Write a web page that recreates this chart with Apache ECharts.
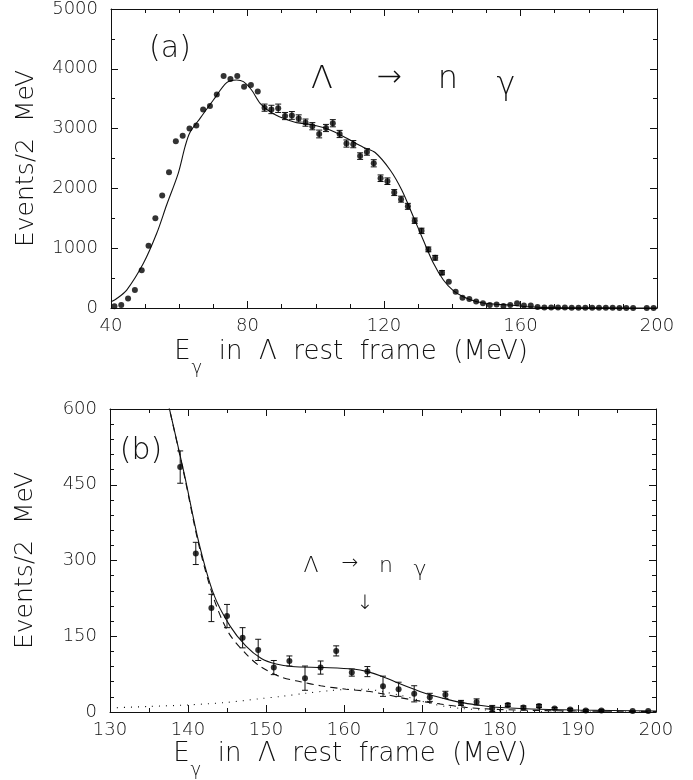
<!DOCTYPE html>
<html>
<head>
<meta charset="utf-8">
<script src="https://cdn.jsdelivr.net/npm/echarts@6/dist/echarts.min.js"></script>
<style>
  html, body { margin: 0; padding: 0; background: #fff; }
  #chart { width: 693px; height: 780px; }
</style>
</head>
<body>
<div id="chart"></div>
<script>
// ---- panel (a): full spectrum ----
const binsA = [41, 43, 45, 47, 49, 51, 53, 55, 57, 59, 61, 63, 65, 67, 69, 71, 73, 75, 77, 79,
  81, 83, 85, 87, 89, 91, 93, 95, 97, 99, 101, 103, 105, 107, 109, 111, 113, 115, 117, 119,
  121, 123, 125, 127, 129, 131, 133, 135, 137, 139, 141, 143, 145, 147, 149, 151, 153, 155, 157, 159,
  161, 163, 165, 167, 169, 171, 173, 175, 177, 179, 181, 183, 185, 187, 189, 191, 193, 195, 197, 199]
const countsA = [30, 50, 160, 300, 630, 1040, 1500, 1880, 2270, 2790, 2880, 3000, 3050, 3320, 3380, 3570, 3880, 3830, 3880, 3700,
  3730, 3620, 3350, 3320, 3340, 3210, 3220, 3170, 3100, 3040, 2910, 3010, 3090, 2910, 2750, 2740, 2540, 2610, 2420, 2170,
  2120, 1930, 1820, 1700, 1460, 1290, 980, 840, 590, 440, 270, 170, 150, 110, 80, 50, 60, 35, 50, 80,
  40, 40, 15, 10, 10, 10, 10, 5, 5, 5, 5, 5, 5, 5, 0, 0, 0, null, 0, 0]
const errA = [0, 0, 0, 0, 0, 0, 0, 0, 0, 0, 0, 0, 0, 0, 0, 0, 0, 0, 0, 0,
  0, 0, 60, 70, 70, 60, 65, 60, 60, 60, 65, 60, 60, 60, 60, 60, 55, 55, 60, 55,
  55, 50, 50, 50, 45, 45, 40, 40, 35, 0, 0, 0, 0, 0, 0, 0, 0, 0, 0, 0,
  0, 0, 0, 0, 0, 0, 0, 0, 0, 0, 0, 0, 0, 0, 0, 0, 0, 0, 0, 0]
const fitAx = [40, 41.5, 44.6, 49.5, 53.4, 56.3, 59.7, 61.7, 63.1, 66.1, 70, 73.9, 76.8, 78.8, 81.2, 83.7, 86.6, 90.5,
  94.4, 99.3, 104.2, 109.1, 113.9, 117.4, 121.8, 125.2, 128.6, 131.5, 134.5, 137.4, 140.3, 143.2, 147.2, 152, 156.9,
  161.8, 171.6, 185, 200]
const fitAy = [106, 150, 300, 747, 1249, 1722, 2252, 2698, 2932, 3172, 3478, 3768, 3813, 3785, 3645, 3423, 3283, 3172,
  3099, 3060, 2977, 2837, 2690, 2600, 2308, 1973, 1527, 1137, 747, 468, 290, 190, 106, 67, 50,
  22, 5, 2, 0]

// ---- panel (b): high energy tail ----
const binsB = [139, 141, 143, 145, 147, 149, 151, 153, 155, 157, 159, 161, 163, 165, 167, 169,
  171, 173, 175, 177, 179, 181, 183, 185, 187, 189, 191, 193, 195, 197, 199]
const countsB = [485, 314, 206, 190, 147, 123, 88, 101, 67, 88, 121, 78, 80, 51, 45, 36,
  29, 34, 18, 20, 7, 14, 9, 12, 7, 5, 3, 3, null, 2, 2]
const errB = [32, 22, 27, 23, 20, 21, 14, 10, 24, 13, 10, 7, 10, 20, 14, 16,
  8, 7, 5, 6, 6, 3, 3, 3, 2, 2, 2, 2, 0, 0, 0]
const totalBx = [137.4, 139.5, 141.4, 143.3, 145.4, 147.4, 149.4, 151.3, 153.3, 157.3, 161.2, 163, 165, 167, 169,
  171, 173, 175, 177, 179, 184, 190, 200]
const totalBy = [615, 473, 335, 233, 170, 131, 106, 95, 90, 88, 85, 80, 70, 57, 45, 34, 26, 19, 14, 10, 6, 4, 2]
const bgBx = [137.4, 139.5, 141.4, 143.3, 145.2, 147.5, 149.2, 151.8, 154.4, 157, 160.3, 163, 165, 167, 170,
  172.3, 175.7, 180, 185, 190, 200]
const bgBy = [615, 470, 330, 225, 157, 114, 91, 70, 60, 52, 45, 41, 36, 29, 21, 16, 9, 5, 3, 2, 1]
const sigBx = [130, 135, 140, 145, 149, 152, 155, 158, 161, 163, 165, 167, 169, 171, 173, 175, 178, 181, 185, 190, 200]
const sigBy = [8, 11, 14, 19, 26, 31, 37, 42, 45, 45, 40, 34, 26, 17, 11, 7, 4, 2, 1, 0, 0]

const FONT = '"DejaVu Sans", sans-serif'
const INK = '#111'

const zip = (xs, ys) => xs.map((x, i) => [x, ys[i]])
const points = (xs, ys, es) => xs.map((x, i) => [x, ys[i], es[i]]).filter(p => p[1] !== null)

const myChart = echarts.init(document.getElementById('chart'))

const tickLabel = { fontSize: 18, fontFamily: FONT, fontWeight: 200, color: INK, formatter: v => String(v) }
// x title: E with subscript gamma, shifted left of the axis centre like the original
const axisTitle = {
  e: { fontSize: 26, fontFamily: FONT, fontWeight: 200, color: INK, lineHeight: 30, verticalAlign: 'top' },
  g: { fontSize: 18, fontFamily: FONT, fontWeight: 200, color: INK, lineHeight: 18, verticalAlign: 'top', padding: [20, 0, 0, 1] },
  t: { fontSize: 26, fontFamily: FONT, fontWeight: 200, color: INK, lineHeight: 30, verticalAlign: 'top', padding: [0, 66, 0, 0] }
}
const xName = '{e|E}{g|γ}{t|  in  Λ  rest  frame  (MeV)}'

function xAxes(gi, min, max, interval, minorSplit, gap) {
  const base = {
    gridIndex: gi, type: 'value', min: min, max: max, interval: interval,
    axisLine: { onZero: false, lineStyle: { color: INK, width: 1 } },
    axisTick: { inside: true, length: 7, lineStyle: { color: INK } },
    minorTick: { show: true, splitNumber: minorSplit, length: 4, lineStyle: { color: INK } },
    splitLine: { show: false }
  }
  return [
    Object.assign({}, base, {
      position: 'bottom',
      axisLabel: Object.assign({ margin: 9 }, tickLabel),
      name: xName, nameLocation: 'middle', nameGap: gap,
      nameTextStyle: { rich: axisTitle }
    }),
    Object.assign({}, base, { position: 'top', axisLabel: { show: false } })
  ]
}

function yAxes(gi, max, interval, minorSplit) {
  const base = {
    gridIndex: gi, type: 'value', min: 0, max: max, interval: interval,
    axisLine: { onZero: false, lineStyle: { color: INK, width: 1 } },
    axisTick: { inside: true, length: 7, lineStyle: { color: INK } },
    minorTick: { show: true, splitNumber: minorSplit, length: 4, lineStyle: { color: INK } },
    splitLine: { show: false }
  }
  return [
    Object.assign({}, base, {
      position: 'left',
      axisLabel: Object.assign({ margin: 13 }, tickLabel),
      name: 'Events/2  MeV', nameLocation: 'middle', nameGap: 72,
      nameTextStyle: { fontSize: 25, fontFamily: FONT, fontWeight: 200, color: INK }
    }),
    Object.assign({}, base, { position: 'right', axisLabel: { show: false } })
  ]
}

// error bars drawn through the axis scales
function errorBars(xi, yi, data) {
  return {
    type: 'custom', xAxisIndex: xi, yAxisIndex: yi, clip: true, z: 3,
    data: data,
    renderItem: function (params, api) {
      const e = api.value(2)
      if (!e) return null
      const x = api.value(0), y = api.value(1)
      const hi = api.coord([x, y + e])
      const lo = api.coord([x, y - e])
      const st = { stroke: INK, lineWidth: 1 }
      return {
        type: 'group',
        children: [
          { type: 'line', shape: { x1: hi[0], y1: hi[1], x2: lo[0], y2: lo[1] }, style: st },
          { type: 'line', shape: { x1: hi[0] - 3, y1: hi[1], x2: hi[0] + 3, y2: hi[1] }, style: st },
          { type: 'line', shape: { x1: lo[0] - 3, y1: lo[1], x2: lo[0] + 3, y2: lo[1] }, style: st }
        ]
      }
    }
  }
}

function curve(xi, yi, data, type) {
  return {
    type: 'line', xAxisIndex: xi, yAxisIndex: yi, data: data,
    showSymbol: false, smooth: 0.3, clip: true, z: 2,
    lineStyle: { color: INK, width: 1.1, type: type }
  }
}

function dots(xi, yi, data) {
  return {
    type: 'scatter', xAxisIndex: xi, yAxisIndex: yi, data: data,
    symbol: 'circle', symbolSize: 6, itemStyle: { color: '#000' }, z: 4
  }
}

function label(text, x, y, size) {
  return {
    type: 'text', x: x, y: y,
    style: {
      text: text, fontSize: size, fontFamily: FONT, fontWeight: 200, fill: INK,
      align: 'center', verticalAlign: 'middle'
    }
  }
}

const ptsA = points(binsA, countsA, errA)
const ptsB = points(binsB, countsB, errB)

const option = {
  animation: false,
  backgroundColor: '#fff',
  grid: [
    { left: 111, top: 9, width: 546, height: 299 },
    { left: 110, top: 409, width: 546, height: 304 }
  ],
  xAxis: xAxes(0, 40, 200, 40, 4, 31).concat(xAxes(1, 130, 200, 10, 2, 29)),
  yAxis: yAxes(0, 5000, 1000, 2).concat(yAxes(1, 600, 150, 5)),
  series: [
    curve(0, 0, zip(fitAx, fitAy), 'solid'),
    errorBars(0, 0, ptsA),
    dots(0, 0, ptsA),
    curve(2, 2, zip(totalBx, totalBy), 'solid'),
    curve(2, 2, zip(bgBx, bgBy), [7, 5]),
    curve(2, 2, zip(sigBx, sigBy), [1, 6]),
    errorBars(2, 2, ptsB),
    dots(2, 2, ptsB)
  ],
  graphic: [
    label('(a)', 170, 49, 30),
    label('Λ', 322, 80, 32),
    label('→', 389, 78, 30),
    label('n', 448, 80, 32),
    label('γ', 506, 86, 32),
    label('(b)', 141, 451, 30),
    label('Λ', 311, 566, 22),
    label('→', 350, 564, 20),
    label('n', 386, 566, 22),
    label('γ', 420, 570, 22),
    label('↓', 365, 604, 20)
  ]
}

myChart.setOption(option)
</script>
</body>
</html>
